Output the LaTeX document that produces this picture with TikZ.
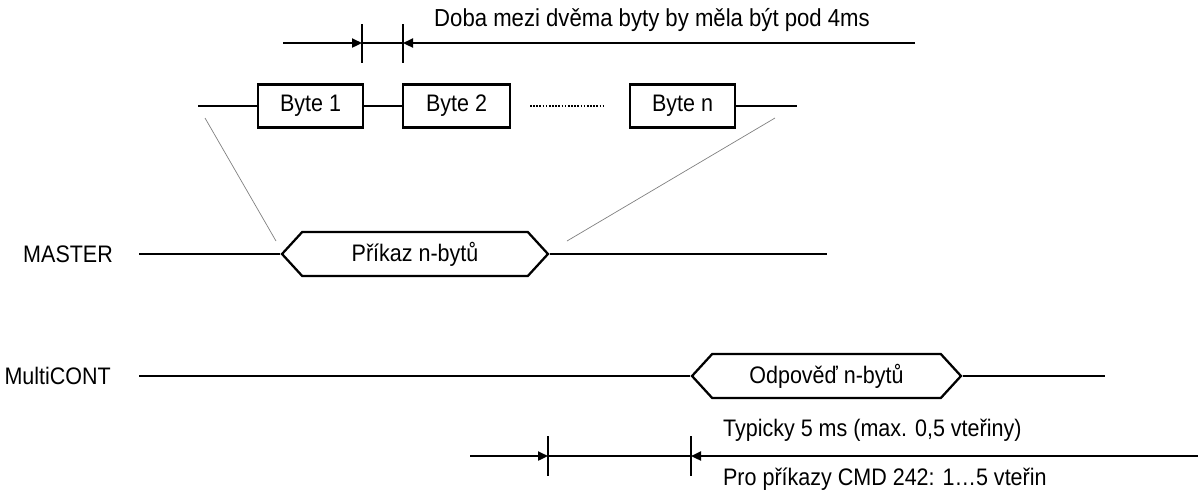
\documentclass[tikz,border=0pt]{standalone}
\usepackage{fontspec}
\setmainfont{Liberation Sans}[FakeStretch=0.9]
\usetikzlibrary{arrows.meta,shapes.symbols}

\begin{document}
\begin{tikzpicture}[x=0.02cm,y=-0.02cm,>={Triangle[length=0.2cm,width=0.18cm]},line width=1.3pt,font=\fontsize{13.6}{16}\selectfont]
  \tikzstyle{byte}=[draw,minimum height=0.86cm,inner sep=0pt]
  \tikzstyle{frame}=[draw,signal,signal to=west and east,signal pointer angle=95,minimum height=0.88cm,inner sep=0pt]
  \tikzstyle{guide}=[gray,line width=0.4pt]
  \tikzstyle{label}=[anchor=west,inner sep=0pt]

  \useasboundingbox (0,0) rectangle (1198,491);

  % bytes of one frame
  \node[byte,minimum width=2.1cm]  (B1) at (310.5,106) {Byte 1};
  \node[byte,minimum width=2.14cm] (B2) at (456.5,106) {Byte 2};
  \node[byte,minimum width=2.1cm]  (Bn) at (682.5,106) {Byte n};
  \coordinate (b0) at (198,106);
  \coordinate (b9) at (797,106);
  \coordinate (d1) at (530,106);
  \coordinate (d2) at (605,106);

  \path (b0) edge (B1)
        (B1) edge (B2)
        (Bn) edge (b9);
  \draw[line width=0.8pt,dash pattern=on 0.9pt off 0.9pt] (d1) -- (d2);

  % gap between two bytes
  \coordinate (g0) at (283,43);
  \coordinate (g1) at (362,43);
  \coordinate (g2) at (403,43);
  \coordinate (g3) at (915,43);
  \node[inner sep=0pt,font=\fontsize{14}{16}\selectfont] (gap) at (652,20) {Doba mezi dvěma byty by měla být pod 4ms};
  \draw[->] (g0) -- (g1);
  \draw (g1) -- (g2);
  \draw[->] (g3) -- (g2);
  \draw (g1) ++(0,-19) -- ++(0,39)
        (g2) ++(0,-19) -- ++(0,39);

  % lines
  \node[anchor=east,inner sep=0pt] (M) at (114,254) {MASTER};
  \node[anchor=east,inner sep=0pt] (S) at (112,376) {MultiCONT};
  \node[frame,minimum width=5.32cm] (cmd) at (415,254) {Příkaz n-bytů};
  \node[frame,minimum width=5.38cm] (ans) at (826.5,376) {Odpověď n-bytů};
  \coordinate (m0) at (139,254);
  \coordinate (m9) at (827,254);
  \coordinate (s0) at (139,376);
  \coordinate (s9) at (1105,376);

  \path (m0) edge (cmd.west)
        (cmd.east) edge (m9)
        (s0) edge (ans.west)
        (ans.east) edge (s9);

  % zoom of the frame
  \coordinate (z1) at (205,118);
  \coordinate (z2) at (276,241);
  \coordinate (z3) at (775,118);
  \coordinate (z4) at (567,241);
  \draw[guide] (z1) -- (z2);
  \draw[guide] (z3) -- (z4);

  % reply time
  \coordinate (r0) at (470,456);
  \coordinate (r1) at (548,456);
  \coordinate (r2) at (691,456);
  \coordinate (r3) at (1198,456);
  \node[label] (typ) at (722,430) {Typicky 5 ms (max. 0,5 vteřiny)};
  \node[label] (cmd242) at (722,479) {Pro příkazy CMD 242: 1…5 vteřin};
  \draw[->] (r0) -- (r1);
  \draw (r1) -- (r2);
  \draw[->] (r3) -- (r2);
  \draw (r1) ++(0,-20) -- ++(0,40)
        (r2) ++(0,-20) -- ++(0,40);
\end{tikzpicture}
\end{document}
